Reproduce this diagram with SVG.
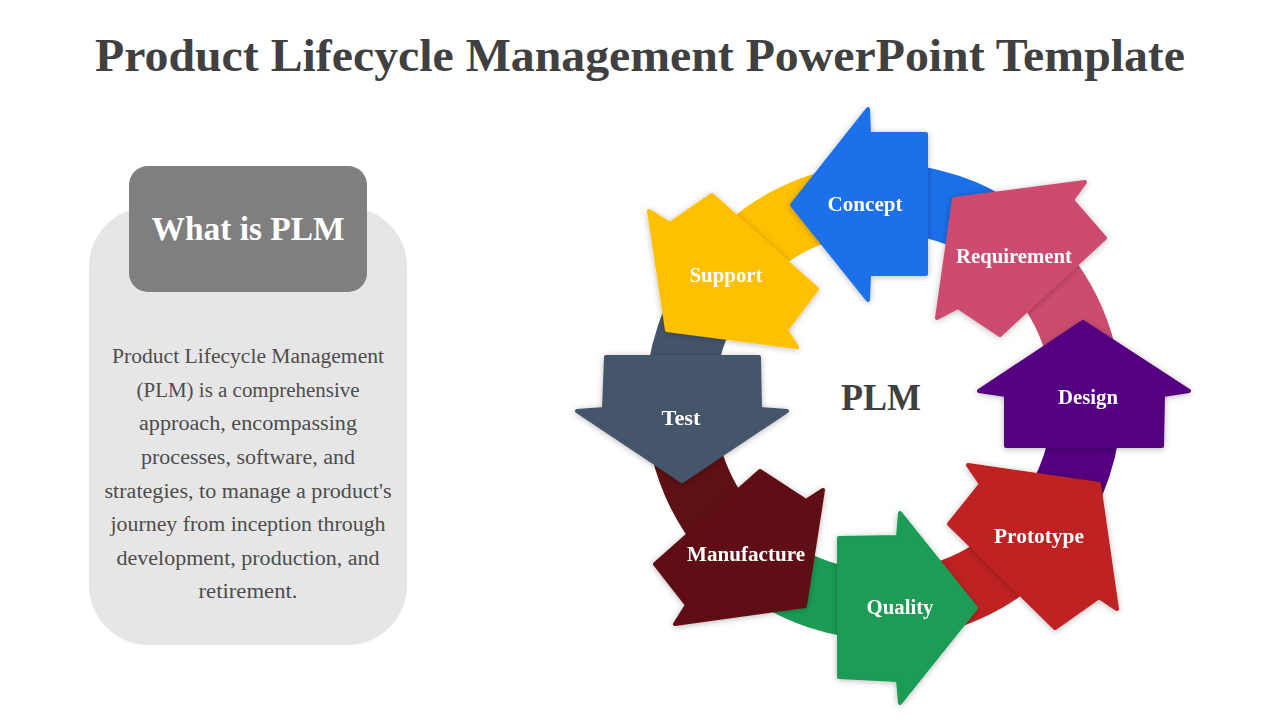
<svg xmlns="http://www.w3.org/2000/svg" width="1280" height="720" viewBox="0 0 1280 720">
<style>
.title{font-family:"Liberation Serif","DejaVu Serif",serif;font-weight:bold;font-size:46px;fill:#404040;text-anchor:middle}
.lbl{font-family:"Liberation Serif","DejaVu Serif",serif;font-weight:bold;font-size:20px;fill:#ffffff;text-anchor:middle}
.body{font-family:"Liberation Serif","DejaVu Serif",serif;font-size:20px;fill:#4d4d4d;text-anchor:middle}
.arc{fill:none;stroke-width:69}
.arrow{stroke-width:4;stroke-linejoin:round}
</style>
<defs>
<filter id="sh" x="-20%" y="-20%" width="140%" height="140%">
<feDropShadow dx="0" dy="1" stdDeviation="3" flood-color="#000" flood-opacity="0.28"/>
</filter>
</defs>
<rect width="1280" height="720" fill="#ffffff"/>
<text class="title" x="640" y="71" textLength="1090" lengthAdjust="spacingAndGlyphs">Product Lifecycle Management PowerPoint Template</text>

<g id="info-panel">
<rect x="89" y="207" width="318" height="438" rx="60" ry="60" fill="#E6E6E6"/>
<rect x="129" y="166" width="238" height="126" rx="19" ry="19" fill="#7F7F7F"/>
<text x="248" y="240" font-family="Liberation Serif, DejaVu Serif, serif" font-weight="bold" font-size="33" fill="#ffffff" text-anchor="middle" textLength="193" lengthAdjust="spacingAndGlyphs">What is PLM</text>
<text class="body" x="248" y="363" textLength="272" lengthAdjust="spacingAndGlyphs">Product Lifecycle Management</text>
<text class="body" x="248" y="397" textLength="223" lengthAdjust="spacingAndGlyphs">(PLM) is a comprehensive</text>
<text class="body" x="248" y="430" textLength="218" lengthAdjust="spacingAndGlyphs">approach, encompassing</text>
<text class="body" x="248" y="464" textLength="214" lengthAdjust="spacingAndGlyphs">processes, software, and</text>
<text class="body" x="248" y="498" textLength="287" lengthAdjust="spacingAndGlyphs">strategies, to manage a product's</text>
<text class="body" x="248" y="531" textLength="275" lengthAdjust="spacingAndGlyphs">journey from inception through</text>
<text class="body" x="248" y="565" textLength="263" lengthAdjust="spacingAndGlyphs">development, production, and</text>
<text class="body" x="248" y="598" textLength="99" lengthAdjust="spacingAndGlyphs">retirement.</text>
</g>

<g id="ring">
<path class="arc" stroke="#1B6FE9" d="M855.18,199.98 A203.5,203.5 0 0 1 1027.40,257.60"/>
<path class="arc" stroke="#CC4C6E" d="M1005.97,238.98 A203.5,203.5 0 0 1 1087,401.5"/>
<path class="arc" stroke="#540080" d="M1085.02,373.18 A203.5,203.5 0 0 1 1027.40,545.40"/>
<path class="arc" stroke="#BE2222" d="M1046.02,523.97 A203.5,203.5 0 0 1 883.5,605"/>
<path class="arc" stroke="#1A9C54" d="M911.82,603.02 A203.5,203.5 0 0 1 739.60,545.40"/>
<path class="arc" stroke="#5E1012" d="M761.03,564.02 A203.5,203.5 0 0 1 680,401.5"/>
<path class="arc" stroke="#44546A" d="M681.98,429.82 A203.5,203.5 0 0 1 739.60,257.60"/>
<path class="arc" stroke="#FFC000" d="M720.98,279.03 A203.5,203.5 0 0 1 883.5,198"/>
</g>

<g id="concept" filter="url(#sh)">
<polygon class="arrow" fill="#1B6FE9" stroke="#1B6FE9" points="792,205 868,109 869,134 926,134 926,274 869,274 868,300"/>
<text class="lbl" x="865" y="211" textLength="75" lengthAdjust="spacingAndGlyphs">Concept</text>
</g>
<g id="requirement" filter="url(#sh)">
<polygon class="arrow" fill="#CC4C6E" stroke="#CC4C6E" points="954,199 1085,182 1072,200 1105,238 1000,335 958,307 937,318"/>
<text class="lbl" x="1014" y="263" textLength="116" lengthAdjust="spacingAndGlyphs">Requirement</text>
</g>
<g id="design" filter="url(#sh)">
<polygon class="arrow" fill="#540080" stroke="#540080" points="1083,322 1189,391 1163,395 1162,446 1006,446 1006,395 979,391"/>
<text class="lbl" x="1088" y="404" textLength="60" lengthAdjust="spacingAndGlyphs">Design</text>
</g>
<g id="prototype" filter="url(#sh)">
<polygon class="arrow" fill="#BE2222" stroke="#BE2222" points="968,465 981,484 949,524 1055,628 1099,597 1117,609 1099,484"/>
<text class="lbl" x="1039" y="543" textLength="90" lengthAdjust="spacingAndGlyphs">Prototype</text>
</g>
<g id="quality" filter="url(#sh)">
<polygon class="arrow" fill="#1A9C54" stroke="#1A9C54" points="839,538 898,537 900,513 976,608 900,703 898,680 839,677"/>
<text class="lbl" x="900" y="614" textLength="67" lengthAdjust="spacingAndGlyphs">Quality</text>
</g>
<g id="manufacture" filter="url(#sh)">
<polygon class="arrow" fill="#5E1012" stroke="#5E1012" points="823,490 806,501 760,471 655,564 687,605 675,624 805,606"/>
<text class="lbl" x="746" y="561" textLength="118" lengthAdjust="spacingAndGlyphs">Manufacture</text>
</g>
<g id="test" filter="url(#sh)">
<polygon class="arrow" fill="#44546A" stroke="#44546A" points="606,357 759,357 760,409 787,411 682,481 577,411 604,409"/>
<text class="lbl" x="681" y="425" textLength="39" lengthAdjust="spacingAndGlyphs">Test</text>
</g>
<g id="support" filter="url(#sh)">
<polygon class="arrow" fill="#FFC000" stroke="#FFC000" points="649,211 670,224 712,195 817,289 786,330 797,347 667,330"/>
<text class="lbl" x="726" y="282" textLength="73" lengthAdjust="spacingAndGlyphs">Support</text>
</g>
<g id="center">
<text x="881" y="410" font-family="Liberation Serif, DejaVu Serif, serif" font-weight="bold" font-size="37" fill="#404040" text-anchor="middle" textLength="80" lengthAdjust="spacingAndGlyphs">PLM</text>
</g>
</svg>
